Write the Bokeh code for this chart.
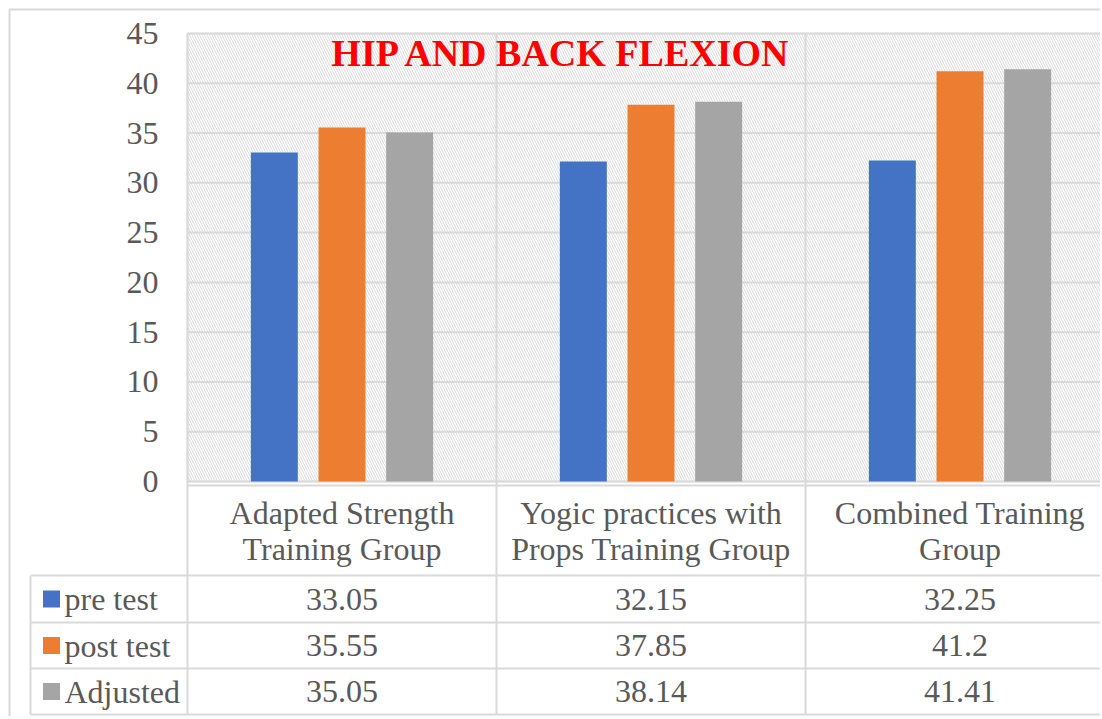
from bokeh.plotting import figure
from bokeh.models import ColumnDataSource, Range1d, FixedTicker, InlineStyleSheet
from bokeh.transform import dodge
from bokeh.core.properties import value
from bokeh.embed import file_html
from bokeh.resources import INLINE

# ---------------- data ----------------
categories = ["Adapted Strength\nTraining Group",
              "Yogic practices with\nProps Training Group",
              "Combined Training\nGroup"]
series_names = ["pre test", "post test", "Adjusted"]
pre_test = [33.05, 32.15, 32.25]
post_test = [35.55, 37.85, 41.2]
adjusted = [35.05, 38.14, 41.41]
y_ticks = [0, 5, 10, 15, 20, 25, 30, 35, 40, 45]
title_text = "HIP AND BACK FLEXION"

# ---------------- style ----------------
colors = ["#4472C4", "#ED7D31", "#A5A5A5"]
FONT = value("Liberation Serif")
TXT = "#595959"
GRID = "#d9d9d9"
W, H = 1100, 716
PX = 9.956             # pixels per y unit
Y_TOP_PX = 33          # screen px of y=45
X0_PX, CAT_PX = 187, 309

def ypx(px):           # figure pixel -> y data
    return 45 - (px - Y_TOP_PX) / PX

def xpx(px):           # figure pixel -> x data
    return (px - X0_PX) / CAT_PX

ymax, ymin = y_ticks[-1], y_ticks[0]
n = len(categories)

css = InlineStyleSheet(css="text { font-family: 'Liberation Serif', serif !important; }")
p = figure(width=W, height=H, output_backend="svg", toolbar_location=None,
           x_range=Range1d(xpx(0), xpx(W)), y_range=Range1d(ypx(H), ypx(0)),
           min_border=0, outline_line_color=None, stylesheets=[css])
p.background_fill_color = "white"
p.border_fill_color = "white"
p.xaxis.visible = False
p.xgrid.visible = False
p.ygrid.visible = False

# y axis drawn at the left edge of the plot area
yax = p.yaxis[0]
yax.fixed_location = 0
yax.ticker = FixedTicker(ticks=y_ticks)
yax.axis_line_color = None
yax.major_tick_line_color = None
yax.minor_tick_line_color = None
yax.major_label_text_font = "Liberation Serif"
yax.major_label_text_font_size = "32px"
yax.major_label_text_color = TXT
yax.major_label_standoff = 23

# hatched plot area
p.quad(left=0, right=n, bottom=ymin, top=ymax, fill_color="white", line_color=GRID,
       line_width=1.5, hatch_pattern="\\", hatch_color="#dadada", hatch_scale=5,
       hatch_weight=1.0)

# horizontal gridlines
p.segment(x0=[0] * len(y_ticks), x1=[n] * len(y_ticks), y0=y_ticks, y1=y_ticks,
          line_color=GRID, line_width=2)

# table geometry
tab_top = ypx(485)
row_px = [575, 622, 668, 714]
row_y = [ypx(v) for v in row_px]
tab_left = xpx(30)
border_x = xpx(9)
border_y = ypx(9)

# vertical category separators (through plot and table)
p.segment(x0=list(range(n + 1)), x1=list(range(n + 1)),
          y0=[ymax] * (n + 1), y1=[row_y[-1]] * (n + 1), line_color=GRID, line_width=2)
# table horizontal lines
p.segment(x0=[0], x1=[n], y0=[tab_top], y1=[tab_top], line_color=GRID, line_width=2)
p.segment(x0=[tab_left] * len(row_y), x1=[n] * len(row_y), y0=row_y, y1=row_y,
          line_color=GRID, line_width=2)
p.segment(x0=[tab_left], x1=[tab_left], y0=[row_y[0]], y1=[row_y[-1]],
          line_color=GRID, line_width=2)
# outer chart border
p.segment(x0=[border_x, border_x], x1=[border_x, n], y0=[border_y, border_y],
          y1=[ypx(H), border_y], line_color=GRID, line_width=2)

# bars
xc = [i + 0.5 for i in range(n)]
src = ColumnDataSource(dict(xc=xc, cats=categories, pre=pre_test, post=post_test, adj=adjusted))
offsets = [-0.219, 0.0, 0.219]
for key, off, col in zip(["pre", "post", "adj"], offsets, colors):
    p.vbar(x=dodge("xc", off, range=p.x_range), top=key, bottom=0, width=0.152,
           source=src, fill_color=col, line_color=None)

# title
p.text(x=[xpx(561.5)], y=[ypx(52)], text=[title_text], text_font=FONT,
       text_font_style="bold", text_font_size="38px", text_color="#FF0000",
       text_align="center", text_baseline="middle")

# table header (category names)
p.text(x="xc", y=ypx(530.5), text="cats", source=src, text_font=FONT,
       text_font_size="32px", text_color=TXT, text_align="center",
       text_baseline="middle", text_line_height=1.0)

# table rows
row_centers = [(row_y[i] + row_y[i + 1]) / 2 for i in range(3)]
for r, (name, vals, col) in enumerate(zip(series_names, [pre_test, post_test, adjusted], colors)):
    yc = row_centers[r]
    p.scatter(x=[xpx(51)], y=[yc], marker="square", size=17, fill_color=col, line_color=None)
    p.text(x=[xpx(64)], y=[yc], text=[name], text_font=FONT, text_font_size="32px",
           text_color=TXT, text_align="left", text_baseline="middle")
    p.text(x=xc, y=[yc] * n, text=[f"{v:g}" for v in vals], text_font=FONT,
           text_font_size="32px", text_color=TXT, text_align="center", text_baseline="middle")

open("out.html", "w").write(file_html(p, INLINE))
